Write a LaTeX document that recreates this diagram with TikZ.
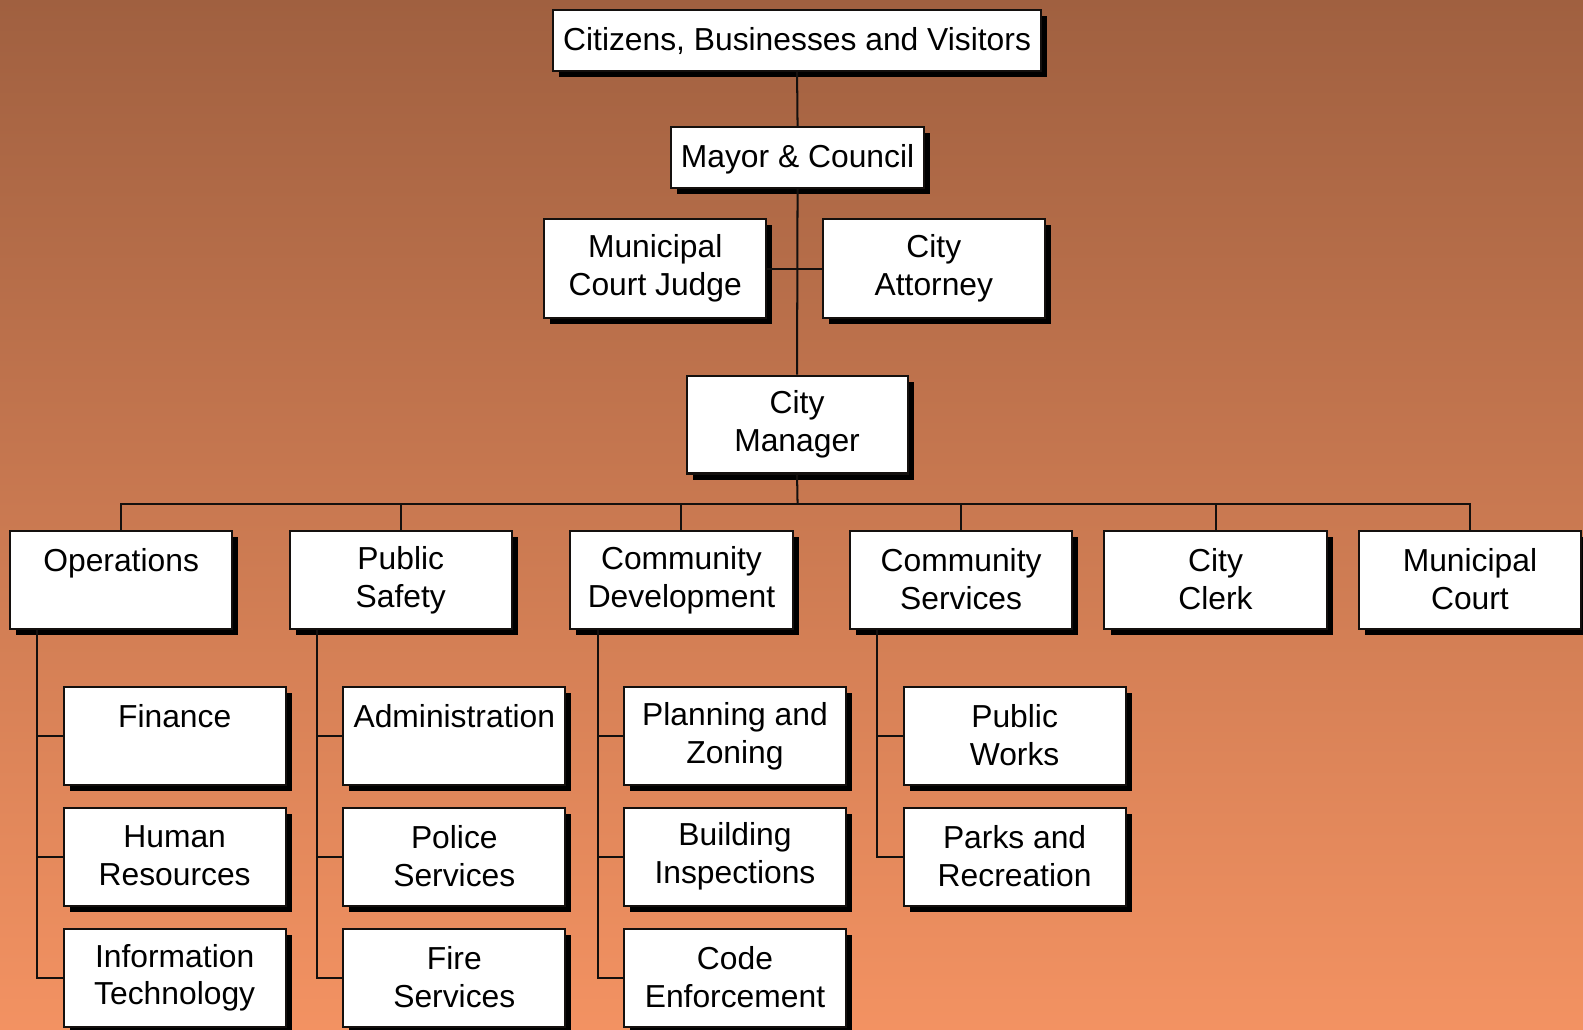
\documentclass[tikz,border=0pt]{standalone}
\usepackage{fontspec}
\setmainfont{Liberation Sans}
\usetikzlibrary{shadows}
\definecolor{bgtop}{RGB}{160,96,64}
\definecolor{bgbot}{RGB}{243,146,98}
\definecolor{edge}{RGB}{20,16,14}
\begin{document}
\begin{tikzpicture}[x=1pt,y=-1pt,
  box/.style={draw=edge, line width=2pt, fill=white, inner sep=0pt, align=center,
    font=\fontsize{31.5}{37.5}\selectfont,
    execute at begin node={\rule{0pt}{29.5pt}},
    execute at end node={\rule[-2pt]{0pt}{2pt}},
    drop shadow={shadow xshift=6pt, shadow yshift=-6pt, fill=black, opacity=1}},
  onebox/.style={box, execute at begin node={\rule{0pt}{28pt}},
    execute at end node={\rule[-10pt]{0pt}{10pt}}},
  sbox/.style={box, minimum width=220pt, minimum height=97pt},
  link/.style={draw=edge, line width=2pt}]
\shade[top color=bgtop, bottom color=bgbot] (0,0) rectangle (1568,1020);
\useasboundingbox (0,0) rectangle (1568,1020);

\node[onebox, minimum width=483pt, minimum height=60pt] (cit) at (789.5,40) {Citizens, Businesses and Visitors};
\node[onebox, minimum width=250pt, minimum height=60pt] (may) at (790,156) {Mayor \& Council};
\node[sbox, minimum height=98pt] (jud) at (649,266) {Municipal\\Court Judge};
\node[sbox, minimum height=98pt] (att) at (925,266) {City\\Attorney};
\node[sbox, minimum width=219pt] (man) at (789.5,420.5) {City\\Manager};

\node[sbox] (ops) at (120,574.5) {Operations\\~};
\node[sbox] (ps)  at (397,574.5) {Public\\Safety};
\node[sbox] (cd)  at (675,574.5) {Community\\Development};
\node[sbox] (cs)  at (952,574.5) {Community\\Services};
\node[sbox] (cc)  at (1204,574.5) {City\\Clerk};
\node[sbox] (mc)  at (1456,574.5) {Municipal\\Court};

\node[sbox] (fin) at (173,729) {Finance\\~};
\node[sbox] (hr)  at (173,848.5) {Human\\Resources};
\node[sbox] (it)  at (173,968.5) {Information\\Technology};
\node[sbox] (adm) at (450,729) {Administration\\~};
\node[sbox] (pol) at (450,848.5) {Police\\Services};
\node[sbox] (fir) at (450,968.5) {Fire\\Services};
\node[sbox] (pla) at (728,729) {Planning and\\Zoning};
\node[sbox] (bui) at (728,848.5) {Building\\Inspections};
\node[sbox] (cod) at (728,968.5) {Code\\Enforcement};
\node[sbox] (pw)  at (1005,729) {Public\\Works};
\node[sbox] (par) at (1005,848.5) {Parks and\\Recreation};

% connectors
\draw[link] (cit.south) -- (may.north);
\draw[link] (may.south) -- (man.north);
\draw[link] (jud.east) -- (att.west);
\coordinate (bus) at (790,499);
\draw[link] (man.south) -- (bus);
\draw[link] (ops.north) |- (bus) -| (mc.north);
\foreach \n in {ps,cd,cs,cc} \draw[link] (\n.north) -- (\n.north |- bus);

\foreach \p/\a/\b/\c in {ops/fin/hr/it, ps/adm/pol/fir, cd/pla/bui/cod}{
  \coordinate (\p-t) at ([xshift=-83pt]\p.south);
  \draw[link] (\p-t) |- (\c.west);
  \draw[link] (\p-t |- \a.west) -- (\a.west);
  \draw[link] (\p-t |- \b.west) -- (\b.west);
}
\coordinate (cs-t) at ([xshift=-83pt]cs.south);
\draw[link] (cs-t) |- (par.west);
\draw[link] (cs-t |- pw.west) -- (pw.west);
\end{tikzpicture}
\end{document}
